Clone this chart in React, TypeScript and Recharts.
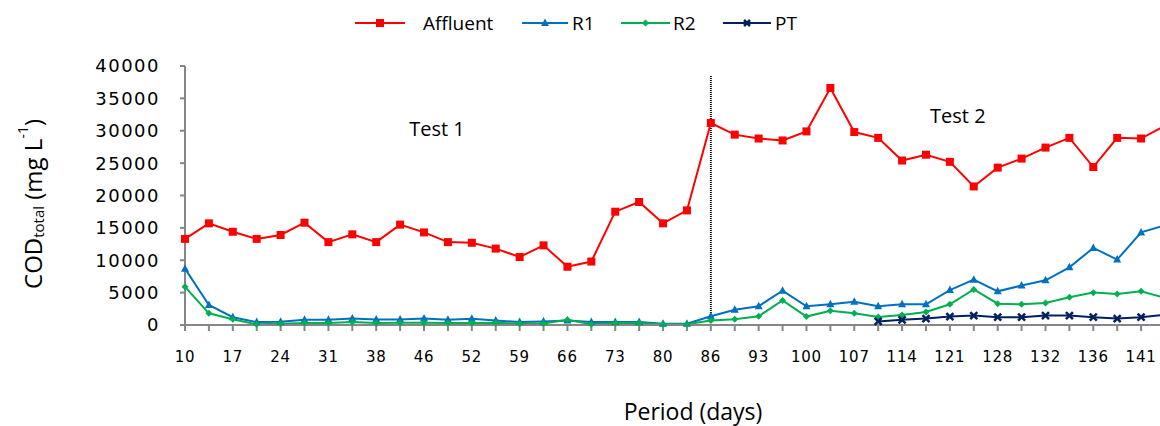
import {
  Legend,
  Line,
  LineChart,
  ReferenceDot,
  ReferenceLine,
  XAxis,
  YAxis,
} from "recharts"

// sampling days (only every other one gets a label on the axis)
const days = [
  10, 14, 17, 21, 24, 28, 31, 35, 38, 42, 46, 49, 52, 56, 59, 63, 66, 70, 73, 77, 80,
  83, 86, 90, 93, 97, 100, 104, 107, 111, 114, 118, 121, 125, 128, 130, 132, 134,
  136, 139, 141, 143,
]

const affluent = [
  13300, 15700, 14400, 13300, 13900, 15800, 12800, 14000, 12800, 15500, 14300, 12800,
  12700, 11800, 10500, 12300, 9000, 9800, 17500, 19000, 15700, 17700, 31200, 29400,
  28800, 28500, 29900, 36600, 29800, 28900, 25400, 26300, 25200, 21400, 24300, 25700,
  27400, 28900, 24400, 28900, 28800, 30800,
]

const r1 = [
  8700, 3100, 1200, 450, 500, 800, 800, 1000, 850, 850, 1000, 800, 950, 700, 450, 550,
  700, 450, 450, 450, 200, 200, 1350, 2350, 2900, 5300, 2900, 3200, 3600, 2900, 3200,
  3200, 5400, 7000, 5200, 6100, 6900, 8900, 11900, 10100, 14300, 15400,
]

const r2 = [
  5900, 1800, 900, 100, 200, 300, 300, 450, 300, 350, 350, 300, 300, 350, 200, 250,
  800, 100, 300, 300, 100, 100, 700, 900, 1350, 3800, 1300, 2200, 1800, 1250, 1550,
  2000, 3200, 5500, 3300, 3200, 3400, 4300, 5000, 4800, 5200, 4200,
]

// PT sampling only started during test 2
const pt = [
  null, null, null, null, null, null, null, null, null, null, null, null, null, null,
  null, null, null, null, null, null, null, null, null, null, null, null, null, null,
  null, 550, 800, 1000, 1300, 1450, 1200, 1200, 1450, 1450, 1200, 1000, 1200, 1600,
]

const yTicks = [0, 5000, 10000, 15000, 20000, 25000, 30000, 35000, 40000]

const data = days.map((d, i) => ({
  day: String(d),
  affluent: affluent[i],
  r1: r1[i],
  r2: r2[i],
  pt: pt[i],
}))

const RED = "#ff0000"
const BLUE = "#0070c0"
const GREEN = "#00b050"
const NAVY = "#002060"
const AXIS = "#868686"
const SANS = '"Open Sans", sans-serif'
const TICK_FONT = '"DejaVu Sans", Verdana, sans-serif'

function squareDot(props: any) {
  const { cx, cy, index } = props
  if (cy == null) return <g key={index} />
  return <rect key={index} x={cx - 4} y={cy - 4} width={8} height={8} fill={RED} />
}

function triangleDot(props: any) {
  const { cx, cy, index } = props
  if (cy == null) return <g key={index} />
  return (
    <path key={index} d={`M${cx},${cy - 4.5}L${cx + 4},${cy + 3}L${cx - 4},${cy + 3}Z`} fill={BLUE} />
  )
}

function diamondDot(props: any) {
  const { cx, cy, index } = props
  if (cy == null) return <g key={index} />
  return (
    <path key={index} d={`M${cx},${cy - 3.5}L${cx + 3.5},${cy}L${cx},${cy + 3.5}L${cx - 3.5},${cy}Z`} fill={GREEN} />
  )
}

function crossDot(props: any) {
  const { cx, cy, index } = props
  if (cy == null) return <g key={index} />
  return (
    <path
      key={index}
      d={`M${cx - 3.5},${cy - 3.5}L${cx + 3.5},${cy + 3.5}M${cx + 3.5},${cy - 3.5}L${cx - 3.5},${cy + 3.5}`}
      stroke={NAVY}
      strokeWidth={2.5}
    />
  )
}

function DayTick(props: any) {
  const { x, y, payload } = props
  const i = days.indexOf(Number(payload.value))
  if (i % 2 !== 0) return <g />
  return (
    <text x={x} y={y} dy="0.71em" textAnchor="middle" fontFamily={TICK_FONT} fontSize={15} letterSpacing={0.8} fill="#000">
      {payload.value}
    </text>
  )
}

function LegendBox() {
  const item = (x1: number, x2: number, color: string, marker: any, tx: number, label: string) => (
    <g key={label}>
      <line x1={x1} x2={x2} y1={15} y2={15} stroke={color} strokeWidth={2} />
      {marker((x1 + x2) / 2, 15)}
      <text x={tx} y={15} dy="0.35em" fontFamily={SANS} fontSize={19} fill="#000">
        {label}
      </text>
    </g>
  )
  return (
    <svg width={1160} height={30} style={{ display: "block" }}>
      {item(355, 405, RED, (x: number, y: number) => <rect x={x - 4} y={y - 4} width={8} height={8} fill={RED} />, 423, "Affluent")}
      {item(522, 568, BLUE, (x: number, y: number) => (
        <path d={`M${x},${y - 4.5}L${x + 4},${y + 3}L${x - 4},${y + 3}Z`} fill={BLUE} />
      ), 572, "R1")}
      {item(621, 670, GREEN, (x: number, y: number) => (
        <path d={`M${x},${y - 3.5}L${x + 3.5},${y}L${x},${y + 3.5}L${x - 3.5},${y}Z`} fill={GREEN} />
      ), 673, "R2")}
      {item(723, 771, NAVY, (x: number, y: number) => (
        <path d={`M${x - 3},${y - 3}L${x + 3},${y + 3}M${x + 3},${y - 3}L${x - 3},${y + 3}`} stroke={NAVY} strokeWidth={2.5} />
      ), 775, "PT")}
    </svg>
  )
}

function YTitle(props: any) {
  const cx = 32
  const cy = 204
  return (
    <text
      x={cx}
      y={cy}
      transform={`rotate(-90 ${cx} ${cy})`}
      textAnchor="middle"
      dominantBaseline="central"
      fontFamily={SANS}
      fontSize={24}
      fill="#000"
    >
      COD
      <tspan fontSize={15} dy={6}>total</tspan>
      <tspan dy={-6}> (mg L</tspan>
      <tspan fontSize={14} dy={-10}>-1</tspan>
      <tspan dy={10}>)</tspan>
    </text>
  )
}

function XTitle(props: any) {
  return (
    <text x={693} y={411} textAnchor="middle" dominantBaseline="central" fontFamily={SANS} fontSize={23} fill="#000">
      Period (days)
    </text>
  )
}

function testLabel(text: string, dx: number) {
  return (props: any) => {
    const vb = props.viewBox || {}
    const x = (vb.x ?? 0) + (vb.width ?? 0) / 2 + dx
    const y = (vb.y ?? 0) + (vb.height ?? 0) / 2
    return (
      <text x={x} y={y} textAnchor="middle" dominantBaseline="central" fontFamily={SANS} fontSize={20} fill="#000">
        {text}
      </text>
    )
  }
}

export default function App() {
  return (
    <div style={{ position: "absolute", left: 0, top: 0, width: 1160, height: 426, overflow: "hidden", background: "#fff" }}>
      <LineChart width={1170} height={426} data={data} margin={{ top: 36, right: 5, bottom: 41, left: 0 }}>
        <Legend verticalAlign="top" height={30} wrapperStyle={{ top: 8, left: 0, width: 1160 }} content={() => <LegendBox />} />
        <XAxis
          dataKey="day"
          interval={0}
          height={60}
          tick={<DayTick />}
          tickSize={6}
          tickMargin={20}
          axisLine={{ stroke: AXIS, strokeWidth: 2 }}
          tickLine={{ stroke: AXIS, strokeWidth: 2 }}
          label={<XTitle />}
        />
        <YAxis
          width={185}
          domain={[0, 40000]}
          ticks={yTicks}
          interval={0}
          tickSize={5}
          tickMargin={20}
          tick={{ fontFamily: TICK_FONT, fontSize: 18, fill: "#000", letterSpacing: 1.5 }}
          axisLine={{ stroke: AXIS, strokeWidth: 2 }}
          tickLine={{ stroke: AXIS, strokeWidth: 2 }}
          label={<YTitle />}
        />
        <ReferenceLine
          segment={[
            { x: "86", y: 0 },
            { x: "86", y: 38600 },
          ]}
          stroke="#000"
          strokeWidth={2}
          strokeDasharray="1 1"
        />
        <ReferenceDot x="46" y={30400} r={1} fill="none" stroke="none" label={testLabel("Test 1", 13)} />
        <ReferenceDot x="121" y={32400} r={1} fill="none" stroke="none" label={testLabel("Test 2", 8)} />
        <Line dataKey="affluent" stroke={RED} strokeWidth={2} dot={squareDot} isAnimationActive={false} />
        <Line dataKey="r1" stroke={BLUE} strokeWidth={2} dot={triangleDot} isAnimationActive={false} />
        <Line dataKey="r2" stroke={GREEN} strokeWidth={2} dot={diamondDot} isAnimationActive={false} />
        <Line dataKey="pt" stroke={NAVY} strokeWidth={2} dot={crossDot} isAnimationActive={false} />
      </LineChart>
    </div>
  )
}
